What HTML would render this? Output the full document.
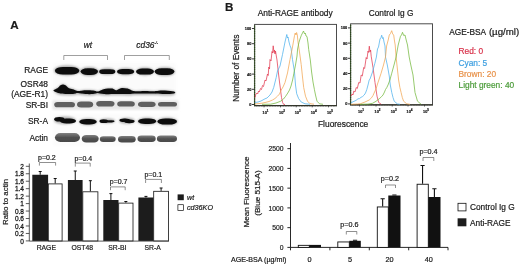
<!DOCTYPE html>
<html lang="en"><head><meta charset="utf-8"><title>Figure</title>
<style>html,body{margin:0;padding:0;background:#fff;}svg{display:block;filter:blur(0.3px);}text{font-family:"Liberation Sans", Arial, sans-serif;fill:#1a1a1a;stroke:#1a1a1a;stroke-width:0.2px;}</style></head><body>
<svg width="520" height="265" viewBox="0 0 520 265">
<defs>
<filter id="b1" x="-20%" y="-50%" width="140%" height="200%"><feGaussianBlur stdDeviation="0.55"/></filter>
<filter id="b2" x="-20%" y="-50%" width="140%" height="200%"><feGaussianBlur stdDeviation="0.8"/></filter>
<filter id="b3" x="-20%" y="-80%" width="140%" height="260%"><feGaussianBlur stdDeviation="1.6"/></filter>
<filter id="b2h" x="-20%" y="-60%" width="140%" height="220%"><feGaussianBlur stdDeviation="1.1"/></filter>
<filter id="t1"><feGaussianBlur stdDeviation="0.3"/></filter>
<linearGradient id="ga" x1="0" y1="0" x2="0" y2="1"><stop offset="0" stop-color="#808080"/><stop offset="0.5" stop-color="#505050"/><stop offset="1" stop-color="#4a4a4a"/></linearGradient>
</defs>
<rect width="520" height="265" fill="#fff"/>
<text x="10.3" y="29" font-size="11.6" font-weight="bold" fill="#000">A</text>
<text x="225" y="11.2" font-size="11.6" font-weight="bold" fill="#000">B</text>
<text x="87.9" y="47.6" font-size="8.4" font-style="italic" text-anchor="middle">wt</text>
<text x="136.3" y="47.6" font-size="8.4" font-style="italic">cd36<tspan font-size="3.8" dy="-3.4">-/-</tspan></text>
<path d="M63.8 60V55.5H107.5V60M124.5 60V55.5H169.3V60" fill="none" stroke="#777" stroke-width="0.7"/>
<text x="48" y="72.8" font-size="8.4" text-anchor="end">RAGE</text>
<text x="48" y="86.9" font-size="8.4" text-anchor="end">OSR48</text>
<text x="48" y="96.9" font-size="8.4" text-anchor="end">(AGE-R1)</text>
<text x="48" y="107.5" font-size="8.4" text-anchor="end">SR-BI</text>
<text x="48" y="123.8" font-size="8.4" text-anchor="end">SR-A</text>
<text x="48" y="140.6" font-size="8.4" text-anchor="end">Actin</text>
<g filter="url(#b3)">
<rect x="53" y="63" width="123" height="36" fill="#fbfbfb"/>
<rect x="53" y="114" width="125" height="32" fill="#fcfcfc"/>
</g>
<rect x="52.5" y="100.3" width="126" height="9.4" fill="#e6e6e6" filter="url(#b2)"/>
<g filter="url(#b2h)" opacity="0.5">
<rect x="54.00" y="65.50" width="26.00" height="10.00" rx="13.00" ry="5.00" fill="#555"/>
<rect x="80.00" y="67.00" width="18.50" height="9.00" rx="9.25" ry="4.50" fill="#555"/>
<rect x="99.00" y="68.00" width="16.50" height="7.00" rx="8.25" ry="3.50" fill="#555"/>
<rect x="117.00" y="68.00" width="17.50" height="7.30" rx="8.75" ry="3.65" fill="#555"/>
<rect x="136.00" y="67.60" width="18.00" height="7.90" rx="9.00" ry="3.95" fill="#555"/>
<rect x="155.00" y="67.30" width="20.00" height="8.70" rx="10.00" ry="4.35" fill="#555"/>
</g>
<g filter="url(#b1)">
<rect x="54.90" y="66.90" width="24.40" height="7.60" rx="7.98" ry="3.80" fill="#0c0c0c"/>
<rect x="80.60" y="68.20" width="17.40" height="6.70" rx="7.04" ry="3.35" fill="#0c0c0c"/>
<rect x="99.20" y="69.30" width="16.10" height="4.70" rx="4.94" ry="2.35" fill="#0c0c0c"/>
<rect x="117.00" y="69.00" width="17.20" height="5.30" rx="5.56" ry="2.65" fill="#0c0c0c"/>
<rect x="136.00" y="68.60" width="18.00" height="5.90" rx="6.20" ry="2.95" fill="#0c0c0c"/>
<rect x="154.60" y="68.30" width="19.80" height="6.60" rx="6.93" ry="3.30" fill="#0c0c0c"/>
</g>
<g filter="url(#b2h)" opacity="0.45">
<path d="M53.40 89.80C53.30 88.75 56.22 88.38 57.40 87.50C58.58 86.62 59.57 85.15 60.50 84.50C61.43 83.85 62.17 83.60 63.00 83.60C63.83 83.60 64.57 83.92 65.50 84.50C66.43 85.08 67.35 86.45 68.60 87.10C69.85 87.75 71.50 87.90 73.00 88.40C74.50 88.90 76.27 89.83 77.60 90.10C78.93 90.37 79.68 90.12 81.00 90.00C82.32 89.88 83.50 89.47 85.50 89.40C87.50 89.33 90.98 89.38 93.00 89.60C95.02 89.82 96.43 90.63 97.60 90.70C98.77 90.77 99.02 90.37 100.00 90.00C100.98 89.63 102.17 88.88 103.50 88.50C104.83 88.12 106.50 87.82 108.00 87.70C109.50 87.58 111.17 87.50 112.50 87.80C113.83 88.10 115.00 89.38 116.00 89.50C117.00 89.62 117.52 88.88 118.50 88.50C119.48 88.12 120.40 87.32 121.90 87.20C123.40 87.08 125.73 87.33 127.50 87.80C129.27 88.27 131.05 89.57 132.50 90.00C133.95 90.43 134.12 90.38 136.20 90.40C138.28 90.42 142.08 90.08 145.00 90.10C147.92 90.12 151.87 90.47 153.70 90.50C155.53 90.53 154.53 90.43 156.00 90.30C157.47 90.17 159.75 89.68 162.50 89.70C165.25 89.72 170.38 90.08 172.50 90.40C174.62 90.72 175.00 90.93 175.20 91.60C175.40 92.27 175.40 93.83 173.70 94.40C172.00 94.97 168.12 95.00 165.00 95.00C161.88 95.00 158.33 94.48 155.00 94.40C151.67 94.32 148.17 94.50 145.00 94.50C141.83 94.50 138.83 94.32 136.00 94.40C133.17 94.48 131.17 94.93 128.00 95.00C124.83 95.07 121.00 94.80 117.00 94.80C113.00 94.80 107.23 95.13 104.00 95.00C100.77 94.87 99.43 94.00 97.60 94.00C95.77 94.00 95.02 94.83 93.00 95.00C90.98 95.17 88.00 95.18 85.50 95.00C83.00 94.82 80.08 93.93 78.00 93.90C75.92 93.87 75.08 94.65 73.00 94.80C70.92 94.95 68.00 94.97 65.50 94.80C63.00 94.63 60.02 94.63 58.00 93.80C55.98 92.97 53.50 90.85 53.40 89.80Z" fill="#555" transform="translate(0 -0.6) scale(1 1.012)"/>
</g>
<g filter="url(#b1)">
<path d="M53.40 90.60C53.30 89.83 56.22 89.18 57.40 88.30C58.58 87.42 59.57 85.95 60.50 85.30C61.43 84.65 62.17 84.40 63.00 84.40C63.83 84.40 64.57 84.72 65.50 85.30C66.43 85.88 67.35 87.25 68.60 87.90C69.85 88.55 71.50 88.70 73.00 89.20C74.50 89.70 76.27 90.63 77.60 90.90C78.93 91.17 79.68 90.92 81.00 90.80C82.32 90.68 83.50 90.27 85.50 90.20C87.50 90.13 90.98 90.18 93.00 90.40C95.02 90.62 96.43 91.43 97.60 91.50C98.77 91.57 99.02 91.17 100.00 90.80C100.98 90.43 102.17 89.68 103.50 89.30C104.83 88.92 106.50 88.62 108.00 88.50C109.50 88.38 111.17 88.30 112.50 88.60C113.83 88.90 115.00 90.18 116.00 90.30C117.00 90.42 117.52 89.68 118.50 89.30C119.48 88.92 120.40 88.12 121.90 88.00C123.40 87.88 125.73 88.13 127.50 88.60C129.27 89.07 131.05 90.37 132.50 90.80C133.95 91.23 134.12 91.18 136.20 91.20C138.28 91.22 142.08 90.88 145.00 90.90C147.92 90.92 151.87 91.27 153.70 91.30C155.53 91.33 154.53 91.23 156.00 91.10C157.47 90.97 159.75 90.48 162.50 90.50C165.25 90.52 170.38 90.88 172.50 91.20C174.62 91.52 175.00 92.02 175.20 92.40C175.40 92.78 175.40 93.22 173.70 93.50C172.00 93.78 168.12 94.10 165.00 94.10C161.88 94.10 158.33 93.58 155.00 93.50C151.67 93.42 148.17 93.60 145.00 93.60C141.83 93.60 138.83 93.42 136.00 93.50C133.17 93.58 131.17 94.03 128.00 94.10C124.83 94.17 121.00 93.90 117.00 93.90C113.00 93.90 107.23 94.23 104.00 94.10C100.77 93.97 99.43 93.10 97.60 93.10C95.77 93.10 95.02 93.93 93.00 94.10C90.98 94.27 88.00 94.28 85.50 94.10C83.00 93.92 80.08 93.03 78.00 93.00C75.92 92.97 75.08 93.75 73.00 93.90C70.92 94.05 68.00 94.07 65.50 93.90C63.00 93.73 60.02 93.45 58.00 92.90C55.98 92.35 53.50 91.37 53.40 90.60Z" fill="#0c0c0c"/>
</g>
<g filter="url(#b1)">
<rect x="54.20" y="102.10" width="20.80" height="5.10" rx="3.57" ry="2.55" fill="#5e5e5e"/>
<rect x="77.00" y="101.50" width="16.20" height="6.00" rx="4.20" ry="3.00" fill="#5e5e5e"/>
<rect x="96.20" y="100.90" width="18.30" height="5.60" rx="3.92" ry="2.80" fill="#5e5e5e"/>
<rect x="117.20" y="101.20" width="17.60" height="5.40" rx="3.78" ry="2.70" fill="#5e5e5e"/>
<rect x="138.00" y="101.70" width="17.60" height="5.30" rx="3.71" ry="2.65" fill="#5e5e5e"/>
<rect x="158.00" y="102.00" width="19.00" height="4.60" rx="3.22" ry="2.30" fill="#5e5e5e"/>
</g>
<g filter="url(#b2h)" opacity="0.45">
<rect x="54.00" y="116.50" width="22.00" height="7.70" rx="10.01" ry="3.85" fill="#555"/>
<rect x="79.00" y="118.30" width="18.00" height="7.00" rx="9.00" ry="3.50" fill="#555"/>
<rect x="99.50" y="118.50" width="15.50" height="4.80" rx="6.24" ry="2.40" fill="#555"/>
<rect x="119.00" y="117.80" width="16.00" height="6.00" rx="7.80" ry="3.00" fill="#555"/>
<rect x="137.50" y="117.60" width="19.00" height="7.20" rx="9.36" ry="3.60" fill="#555"/>
<rect x="157.00" y="117.60" width="20.50" height="7.80" rx="10.14" ry="3.90" fill="#555"/>
</g>
<g filter="url(#b1)">
<ellipse cx="59.35" cy="119.30" rx="5.15" ry="2.30" fill="#0c0c0c"/>
<rect x="60.00" y="118.60" width="16.00" height="4.90" rx="6.37" ry="2.45" fill="#0c0c0c"/>
<rect x="79.20" y="119.00" width="17.60" height="5.60" rx="7.28" ry="2.80" fill="#0c0c0c"/>
<ellipse cx="103.75" cy="121.15" rx="4.25" ry="1.85" fill="#0c0c0c"/>
<rect x="103.00" y="120.20" width="11.60" height="2.20" rx="2.86" ry="1.10" fill="#0c0c0c"/>
<rect x="119.40" y="118.40" width="10.60" height="3.60" rx="4.68" ry="1.80" fill="#0c0c0c"/>
<rect x="124.00" y="119.40" width="10.60" height="3.80" rx="4.94" ry="1.90" fill="#0c0c0c"/>
<rect x="138.00" y="118.40" width="18.30" height="5.60" rx="7.28" ry="2.80" fill="#0c0c0c"/>
<rect x="157.40" y="118.40" width="19.60" height="6.20" rx="8.06" ry="3.10" fill="#0c0c0c"/>
</g>
<g filter="url(#b1)">
<rect x="54.90" y="133.10" width="25.10" height="8.80" rx="5.28" ry="4.40" fill="url(#ga)"/>
<rect x="81.70" y="135.00" width="17.00" height="7.50" rx="4.50" ry="3.75" fill="url(#ga)"/>
<rect x="99.80" y="136.20" width="15.90" height="5.70" rx="3.42" ry="2.85" fill="url(#ga)"/>
<rect x="118.00" y="136.00" width="17.70" height="6.50" rx="3.90" ry="3.25" fill="url(#ga)"/>
<rect x="137.50" y="135.60" width="18.20" height="6.30" rx="3.78" ry="3.15" fill="url(#ga)"/>
<rect x="156.90" y="135.60" width="20.10" height="6.30" rx="3.78" ry="3.15" fill="url(#ga)"/>
</g>
<g stroke="#222" stroke-width="0.75" fill="none">
<path d="M29.3 163.5V241.1 H169"/>
<path d="M25.8 240.90H29.3M25.8 233.44H29.3M25.8 225.98H29.3M25.8 218.52H29.3M25.8 211.06H29.3M25.8 203.60H29.3M25.8 196.14H29.3M25.8 188.68H29.3M25.8 181.22H29.3M25.8 173.76H29.3M25.8 166.30H29.3"/>
</g>
<text transform="translate(24 243.60) scale(0.86 1)" font-size="7.6" text-anchor="end" fill="#111" style="stroke-width:0.3px">0</text>
<text transform="translate(24 236.14) scale(0.86 1)" font-size="7.6" text-anchor="end" fill="#111" style="stroke-width:0.3px">0.2</text>
<text transform="translate(24 228.68) scale(0.86 1)" font-size="7.6" text-anchor="end" fill="#111" style="stroke-width:0.3px">0.4</text>
<text transform="translate(24 221.22) scale(0.86 1)" font-size="7.6" text-anchor="end" fill="#111" style="stroke-width:0.3px">0.6</text>
<text transform="translate(24 213.76) scale(0.86 1)" font-size="7.6" text-anchor="end" fill="#111" style="stroke-width:0.3px">0.8</text>
<text transform="translate(24 206.30) scale(0.86 1)" font-size="7.6" text-anchor="end" fill="#111" style="stroke-width:0.3px">1</text>
<text transform="translate(24 198.84) scale(0.86 1)" font-size="7.6" text-anchor="end" fill="#111" style="stroke-width:0.3px">1.2</text>
<text transform="translate(24 191.38) scale(0.86 1)" font-size="7.6" text-anchor="end" fill="#111" style="stroke-width:0.3px">1.4</text>
<text transform="translate(24 183.92) scale(0.86 1)" font-size="7.6" text-anchor="end" fill="#111" style="stroke-width:0.3px">1.6</text>
<text transform="translate(24 176.46) scale(0.86 1)" font-size="7.6" text-anchor="end" fill="#111" style="stroke-width:0.3px">1.8</text>
<text transform="translate(24 169.00) scale(0.86 1)" font-size="7.6" text-anchor="end" fill="#111" style="stroke-width:0.3px">2</text>
<path d="M40.20 174.75V171.50M38.70 171.50H41.70" stroke="#111" stroke-width="1" fill="none"/>
<rect x="32.30" y="174.75" width="15.80" height="66.15" fill="#1c1c1c"/>
<path d="M55.20 183.50V178.50M53.70 178.50H56.70" stroke="#111" stroke-width="1" fill="none"/>
<rect x="48.30" y="183.90" width="13.80" height="57.00" fill="#fff" stroke="#111" stroke-width="0.8"/>
<path d="M75.25 180.00V171.00M73.75 171.00H76.75" stroke="#111" stroke-width="1" fill="none"/>
<rect x="67.90" y="180.00" width="14.70" height="60.90" fill="#1c1c1c"/>
<path d="M90.35 191.40V180.70M88.85 180.70H91.85" stroke="#111" stroke-width="1" fill="none"/>
<rect x="82.80" y="191.80" width="15.10" height="49.10" fill="#fff" stroke="#111" stroke-width="0.8"/>
<path d="M110.90 200.00V193.60M109.40 193.60H112.40" stroke="#111" stroke-width="1" fill="none"/>
<rect x="103.30" y="200.00" width="15.20" height="40.90" fill="#1c1c1c"/>
<path d="M125.85 202.70V201.50M124.35 201.50H127.35" stroke="#111" stroke-width="1" fill="none"/>
<rect x="118.70" y="203.10" width="14.30" height="37.80" fill="#fff" stroke="#111" stroke-width="0.8"/>
<path d="M145.95 197.50V196.40M144.45 196.40H147.45" stroke="#111" stroke-width="1" fill="none"/>
<rect x="138.40" y="197.50" width="15.10" height="43.40" fill="#1c1c1c"/>
<path d="M161.10 190.90V188.00M159.60 188.00H162.60" stroke="#111" stroke-width="1" fill="none"/>
<rect x="153.70" y="191.30" width="14.80" height="49.60" fill="#fff" stroke="#111" stroke-width="0.8"/>
<text x="46.9" y="159.8" font-size="7" text-anchor="middle" fill="#222">p=0.2</text>
<path d="M39.4 165.6V162.5H55.6V165.6" stroke="#444" stroke-width="0.6" fill="none"/>
<text x="83.3" y="161.3" font-size="7" text-anchor="middle" fill="#222">p=0.4</text>
<path d="M75.3 166.6V163.1H90.2V166.6" stroke="#444" stroke-width="0.6" fill="none"/>
<text x="118.6" y="183.8" font-size="7" text-anchor="middle" fill="#222">p=0.7</text>
<path d="M110.5 190.2V186.9H125.2V190.2" stroke="#444" stroke-width="0.6" fill="none"/>
<text x="153.3" y="176.6" font-size="7" text-anchor="middle" fill="#222">p=0.1</text>
<path d="M145.6 183.0V179.4H161.4V183.0" stroke="#444" stroke-width="0.6" fill="none"/>
<text x="46.3" y="250" font-size="6.8" text-anchor="middle" fill="#111">RAGE</text>
<text x="82.2" y="250" font-size="6.8" text-anchor="middle" fill="#111">OST48</text>
<text x="117.3" y="250" font-size="6.8" text-anchor="middle" fill="#111">SR-BI</text>
<text x="152.6" y="250" font-size="6.8" text-anchor="middle" fill="#111">SR-A</text>
<text transform="translate(8.3 202) rotate(-90)" font-size="7.9" text-anchor="middle" fill="#111">Ratio to actin</text>
<rect x="177.6" y="194.4" width="6.2" height="5.8" fill="#1c1c1c"/>
<rect x="177.9" y="204.7" width="5.6" height="5.8" fill="#fff" stroke="#111" stroke-width="0.7"/>
<text x="187" y="199.7" font-size="7.2" font-style="italic" fill="#111">wt</text>
<text x="187" y="209.9" font-size="7.2" font-style="italic" fill="#111">cd36KO</text>
<text x="257.7" y="16" font-size="8.4" fill="#111">Anti-RAGE antibody</text>
<text x="368.7" y="16" font-size="8.3" fill="#111">Control Ig G</text>
<text transform="translate(239.4 68.2) rotate(-90)" font-size="8.4" text-anchor="middle" fill="#111">Number of Events</text>
<text x="318" y="126.6" font-size="8.4" fill="#111">Fluorescence</text>
<rect x="254.6" y="24.4" width="81.9" height="81.2" fill="#fff" stroke="#444" stroke-width="0.95"/>
<path d="M254.1 105.6H336.9" stroke="#33352a" stroke-width="1.25"/>
<path d="M254.6 25.4V105.6" stroke="#2c4a1c" stroke-width="1.3" stroke-dasharray="1.3 0.5" fill="none"/>
<path d="M254.6 106.3H336.5" stroke="#555" stroke-width="0.7" stroke-dasharray="0.5 1.1" fill="none"/>
<path d="M252.0 104.50H254.6" stroke="#222" stroke-width="0.9"/>
<text x="251.3" y="105.90" font-size="3.9" font-weight="bold" text-anchor="end" fill="#222">0</text>
<path d="M252.0 89.30H254.6" stroke="#222" stroke-width="0.9"/>
<text x="251.3" y="90.70" font-size="3.9" font-weight="bold" text-anchor="end" fill="#222">20</text>
<path d="M252.0 74.10H254.6" stroke="#222" stroke-width="0.9"/>
<text x="251.3" y="75.50" font-size="3.9" font-weight="bold" text-anchor="end" fill="#222">40</text>
<path d="M252.0 58.90H254.6" stroke="#222" stroke-width="0.9"/>
<text x="251.3" y="60.30" font-size="3.9" font-weight="bold" text-anchor="end" fill="#222">60</text>
<path d="M252.0 43.70H254.6" stroke="#222" stroke-width="0.9"/>
<text x="251.3" y="45.10" font-size="3.9" font-weight="bold" text-anchor="end" fill="#222">80</text>
<path d="M252.0 28.50H254.6" stroke="#222" stroke-width="0.9"/>
<text x="251.3" y="29.90" font-size="3.9" font-weight="bold" text-anchor="end" fill="#222">100</text>
<text x="265.5" y="113.6" font-size="3.8" font-weight="bold" text-anchor="middle" fill="#222">10<tspan font-size="3.1" dy="-2.1">1</tspan></text>
<path d="M264.0 105.6V107.4" stroke="#222" stroke-width="0.6"/>
<text x="282.0" y="113.6" font-size="3.8" font-weight="bold" text-anchor="middle" fill="#222">10<tspan font-size="3.1" dy="-2.1">2</tspan></text>
<path d="M280.5 105.6V107.4" stroke="#222" stroke-width="0.6"/>
<text x="297.7" y="113.6" font-size="3.8" font-weight="bold" text-anchor="middle" fill="#222">10<tspan font-size="3.1" dy="-2.1">3</tspan></text>
<path d="M296.2 105.6V107.4" stroke="#222" stroke-width="0.6"/>
<text x="313.7" y="113.6" font-size="3.8" font-weight="bold" text-anchor="middle" fill="#222">10<tspan font-size="3.1" dy="-2.1">4</tspan></text>
<path d="M312.2 105.6V107.4" stroke="#222" stroke-width="0.6"/>
<text x="330.0" y="113.6" font-size="3.8" font-weight="bold" text-anchor="middle" fill="#222">10<tspan font-size="3.1" dy="-2.1">5</tspan></text>
<path d="M328.5 105.6V107.4" stroke="#222" stroke-width="0.6"/>
<polyline fill="none" stroke="#e23a50" stroke-width="0.75" stroke-linejoin="round" points="255.00,97.50 255.80,94.50 256.60,93.00 257.60,94.00 258.60,91.00 259.40,91.80 260.50,88.50 261.50,89.50 262.50,85.50 263.50,86.50 265.00,80.00 266.00,81.00 267.50,74.00 268.20,75.50 268.80,67.00 269.50,69.00 270.00,59.50 271.00,61.00 272.00,51.50 272.60,53.00 273.20,45.80 274.00,52.50 274.50,50.00 275.00,54.00 275.50,51.00 276.30,56.00 277.00,60.00 278.30,72.00 279.50,82.00 280.30,88.00 281.50,97.50 282.60,102.50 283.60,104.30 285.00,104.50"/>
<polyline fill="none" stroke="#4cb0ec" stroke-width="0.75" stroke-linejoin="round" points="255.00,102.50 258.00,102.00 261.00,101.00 265.00,98.80 267.00,98.00 270.00,95.00 272.00,92.00 273.70,87.50 276.20,77.50 277.50,71.00 280.00,66.00 282.50,54.50 285.00,42.00 286.20,37.00 286.80,34.50 287.50,38.00 288.00,37.00 289.00,42.00 290.00,45.70 291.00,48.00 292.50,59.50 294.50,72.00 295.50,85.00 296.70,93.70 298.70,98.70 301.20,102.00 305.00,103.80 310.00,104.20"/>
<polyline fill="none" stroke="#f2a652" stroke-width="0.75" stroke-linejoin="round" points="255.00,104.00 262.00,103.20 265.00,102.50 269.00,101.50 272.50,100.00 275.00,98.50 277.50,96.20 279.50,94.00 281.20,90.00 283.00,87.00 285.00,82.50 287.50,73.00 290.00,59.50 292.50,47.00 294.50,35.70 295.20,33.00 296.00,35.00 296.60,32.50 297.30,35.00 298.00,42.00 299.50,52.00 301.20,64.50 302.50,77.00 303.70,87.50 305.50,96.20 307.50,101.20 310.00,103.70 314.00,104.20"/>
<polyline fill="none" stroke="#74b83e" stroke-width="0.75" stroke-linejoin="round" points="262.00,104.30 270.70,104.20 276.00,103.00 280.70,101.20 283.50,99.00 285.70,96.20 287.80,93.00 289.50,90.00 291.00,86.00 292.60,80.00 293.90,73.20 295.50,65.00 297.00,56.00 297.60,49.00 298.90,42.70 300.00,39.00 301.40,35.20 302.50,33.00 303.50,31.00 304.50,33.80 305.30,33.00 306.00,36.00 307.00,36.50 308.00,43.00 308.70,49.50 310.30,60.00 311.60,72.00 313.00,82.00 314.40,89.50 315.50,95.00 317.00,101.20 319.50,103.80 323.00,104.30"/>
<rect x="350.6" y="23.8" width="81.9" height="81.0" fill="#fff" stroke="#444" stroke-width="0.95"/>
<path d="M350.1 104.8H432.9" stroke="#33352a" stroke-width="1.25"/>
<path d="M350.6 24.8V104.8" stroke="#2c4a1c" stroke-width="1.3" stroke-dasharray="1.3 0.5" fill="none"/>
<path d="M350.6 105.5H432.5" stroke="#555" stroke-width="0.7" stroke-dasharray="0.5 1.1" fill="none"/>
<path d="M348.0 103.90H350.6" stroke="#222" stroke-width="0.9"/>
<text x="347.3" y="105.30" font-size="3.9" font-weight="bold" text-anchor="end" fill="#222">0</text>
<path d="M348.0 88.70H350.6" stroke="#222" stroke-width="0.9"/>
<text x="347.3" y="90.10" font-size="3.9" font-weight="bold" text-anchor="end" fill="#222">20</text>
<path d="M348.0 73.50H350.6" stroke="#222" stroke-width="0.9"/>
<text x="347.3" y="74.90" font-size="3.9" font-weight="bold" text-anchor="end" fill="#222">40</text>
<path d="M348.0 58.30H350.6" stroke="#222" stroke-width="0.9"/>
<text x="347.3" y="59.70" font-size="3.9" font-weight="bold" text-anchor="end" fill="#222">60</text>
<path d="M348.0 43.10H350.6" stroke="#222" stroke-width="0.9"/>
<text x="347.3" y="44.50" font-size="3.9" font-weight="bold" text-anchor="end" fill="#222">80</text>
<path d="M348.0 27.90H350.6" stroke="#222" stroke-width="0.9"/>
<text x="347.3" y="29.30" font-size="3.9" font-weight="bold" text-anchor="end" fill="#222">100</text>
<text x="361.0" y="112.8" font-size="3.8" font-weight="bold" text-anchor="middle" fill="#222">10<tspan font-size="3.1" dy="-2.1">1</tspan></text>
<path d="M359.5 104.8V106.6" stroke="#222" stroke-width="0.6"/>
<text x="377.5" y="112.8" font-size="3.8" font-weight="bold" text-anchor="middle" fill="#222">10<tspan font-size="3.1" dy="-2.1">2</tspan></text>
<path d="M376.0 104.8V106.6" stroke="#222" stroke-width="0.6"/>
<text x="393.7" y="112.8" font-size="3.8" font-weight="bold" text-anchor="middle" fill="#222">10<tspan font-size="3.1" dy="-2.1">3</tspan></text>
<path d="M392.2 104.8V106.6" stroke="#222" stroke-width="0.6"/>
<text x="409.5" y="112.8" font-size="3.8" font-weight="bold" text-anchor="middle" fill="#222">10<tspan font-size="3.1" dy="-2.1">4</tspan></text>
<path d="M408.0 104.8V106.6" stroke="#222" stroke-width="0.6"/>
<text x="426.0" y="112.8" font-size="3.8" font-weight="bold" text-anchor="middle" fill="#222">10<tspan font-size="3.1" dy="-2.1">5</tspan></text>
<path d="M424.5 104.8V106.6" stroke="#222" stroke-width="0.6"/>
<polyline fill="none" stroke="#e23a50" stroke-width="0.75" stroke-linejoin="round" points="351.00,96.20 352.00,94.00 353.00,95.00 353.70,91.20 355.00,92.00 356.20,87.50 357.30,88.50 358.70,82.50 360.00,83.00 361.20,75.00 362.30,76.00 363.70,67.50 364.60,68.50 366.20,57.50 367.00,59.00 368.00,51.00 368.70,52.50 369.30,46.20 370.00,52.00 370.60,50.00 371.20,56.20 373.00,67.50 375.00,82.50 377.00,96.20 378.70,102.50 381.20,104.20"/>
<polyline fill="none" stroke="#4cb0ec" stroke-width="0.75" stroke-linejoin="round" points="351.00,102.70 354.00,101.30 356.00,100.40 358.00,98.80 359.50,98.60 361.00,97.30 362.50,96.60 364.20,95.00 365.50,93.00 366.80,89.50 368.00,85.00 369.20,80.00 370.00,79.00 371.10,76.00 372.50,72.00 374.90,63.20 376.40,57.00 377.50,49.00 378.50,47.00 380.00,39.00 381.00,37.50 381.70,35.20 382.50,38.50 383.20,37.50 384.00,42.00 385.00,46.00 385.50,57.00 387.30,65.00 389.25,76.00 390.30,85.00 391.75,92.50 393.00,97.50 394.25,101.25 397.40,103.90 400.00,104.30"/>
<polyline fill="none" stroke="#f2a652" stroke-width="0.75" stroke-linejoin="round" points="351.00,104.30 357.50,104.00 360.50,103.70 365.00,102.00 369.20,100.00 371.50,97.80 373.00,95.50 375.00,91.00 376.20,88.50 377.50,84.00 379.50,78.00 381.10,73.20 383.50,65.00 385.50,57.00 386.60,46.00 388.20,40.00 389.30,35.00 390.50,33.50 391.70,30.70 392.70,34.00 393.70,35.00 394.50,41.00 395.20,45.00 396.10,57.00 397.50,70.00 398.60,80.00 399.90,87.50 401.10,92.50 402.30,97.50 403.60,101.20 406.70,103.80 410.00,104.30"/>
<polyline fill="none" stroke="#74b83e" stroke-width="0.75" stroke-linejoin="round" points="360.00,104.30 368.00,104.10 372.50,103.30 376.00,101.30 379.20,98.80 381.50,96.70 383.00,95.00 384.50,92.00 385.50,89.50 386.80,87.50 388.00,85.00 389.90,80.00 391.75,73.20 394.00,65.00 396.10,57.00 397.30,50.00 398.20,45.00 399.50,40.00 400.50,36.20 401.50,35.00 402.50,32.30 403.70,35.50 405.00,35.00 406.20,40.00 407.50,45.00 409.20,57.00 410.80,65.00 413.00,75.00 415.00,92.50 417.50,101.20 421.20,104.30"/>
<text x="449.2" y="35.2" font-size="8.3" fill="#111">AGE-BSA</text>
<text x="488.9" y="35.2" font-size="8.5" fill="#111" textLength="30.3" lengthAdjust="spacingAndGlyphs">(µg/ml)</text>
<text x="458.5" y="54.2" font-size="8.35" style="fill:#d8324a;stroke:#d8324a">Red: 0</text>
<text x="458.5" y="65.5" font-size="8.35" style="fill:#3e9fe0;stroke:#3e9fe0">Cyan: 5</text>
<text x="458.5" y="76.9" font-size="8.35" style="fill:#e8924a;stroke:#e8924a">Brown: 20</text>
<text x="458.5" y="88.2" font-size="8.35" style="fill:#4c9c3a;stroke:#4c9c3a">Light green: 40</text>
<g stroke="#111" stroke-width="0.9" fill="none">
<path d="M290.5 143V247.4H448V250.3"/>
<path d="M287.4 247.40H290.5M287.4 227.65H290.5M287.4 207.90H290.5M287.4 188.15H290.5M287.4 168.40H290.5M287.4 148.65H290.5M290.5 247.4V250.3M329.9 247.4V250.3M369.3 247.4V250.3M408.7 247.4V250.3"/>
</g>
<text transform="translate(283.6 250.20) scale(0.86 1)" font-size="7.9" text-anchor="end" fill="#111">0</text>
<text transform="translate(283.6 230.45) scale(0.86 1)" font-size="7.9" text-anchor="end" fill="#111">500</text>
<text transform="translate(283.6 210.70) scale(0.86 1)" font-size="7.9" text-anchor="end" fill="#111">1000</text>
<text transform="translate(283.6 190.95) scale(0.86 1)" font-size="7.9" text-anchor="end" fill="#111">1500</text>
<text transform="translate(283.6 171.20) scale(0.86 1)" font-size="7.9" text-anchor="end" fill="#111">2000</text>
<text transform="translate(283.6 151.45) scale(0.86 1)" font-size="7.9" text-anchor="end" fill="#111">2500</text>
<rect x="298.30" y="245.35" width="11.00" height="2.05" fill="#fff" stroke="#111" stroke-width="0.9"/>
<rect x="309.30" y="244.90" width="11.70" height="2.50" fill="#111"/>
<rect x="337.80" y="241.95" width="11.50" height="5.45" fill="#fff" stroke="#111" stroke-width="0.9"/>
<path d="M355.05 240.80V240.30M352.95 240.30H357.15" stroke="#111" stroke-width="1.1" fill="none"/>
<rect x="349.30" y="240.80" width="11.50" height="6.60" fill="#111"/>
<path d="M382.65 206.50V198.80M380.55 198.80H384.75" stroke="#111" stroke-width="1.1" fill="none"/>
<rect x="377.30" y="206.95" width="11.00" height="40.45" fill="#fff" stroke="#111" stroke-width="0.9"/>
<path d="M394.40 195.50V195.00M392.30 195.00H396.50" stroke="#111" stroke-width="1.1" fill="none"/>
<rect x="388.30" y="195.50" width="12.20" height="51.90" fill="#111"/>
<path d="M422.55 183.80V165.50M420.45 165.50H424.65" stroke="#111" stroke-width="1.1" fill="none"/>
<rect x="417.10" y="184.25" width="11.20" height="63.15" fill="#fff" stroke="#111" stroke-width="0.9"/>
<path d="M434.40 197.00V188.80M432.30 188.80H436.50" stroke="#111" stroke-width="1.1" fill="none"/>
<rect x="428.30" y="197.00" width="12.20" height="50.40" fill="#111"/>
<text x="349.3" y="227.3" font-size="7.2" text-anchor="middle" fill="#222">p=0.6</text>
<path d="M346.3 234.5V231.5H356.8V234.5" stroke="#444" stroke-width="0.6" fill="none"/>
<text x="389.8" y="181.4" font-size="7.2" text-anchor="middle" fill="#222">p=0.2</text>
<path d="M385.5 188.0V185.0H395.5V188.0" stroke="#444" stroke-width="0.6" fill="none"/>
<text x="428.5" y="153.8" font-size="7.2" text-anchor="middle" fill="#222">p=0.4</text>
<path d="M423.0 161.0V157.5H433.8V161.0" stroke="#444" stroke-width="0.6" fill="none"/>
<text x="231" y="261.5" font-size="7.1" fill="#111">AGE-BSA (µg/ml)</text>
<text x="309.5" y="261.7" font-size="7.3" text-anchor="middle" fill="#111">0</text>
<text x="350.0" y="261.7" font-size="7.3" text-anchor="middle" fill="#111">5</text>
<text x="389.5" y="261.7" font-size="7.3" text-anchor="middle" fill="#111">20</text>
<text x="428.8" y="261.7" font-size="7.3" text-anchor="middle" fill="#111">40</text>
<text transform="translate(249.3 192) rotate(-90)" font-size="8.1" text-anchor="middle" fill="#111">Mean Fluorescence</text>
<text transform="translate(259.6 193) rotate(-90)" font-size="8.1" text-anchor="middle" fill="#111">(Blue 515-A)</text>
<rect x="458" y="203.3" width="8" height="7.6" fill="#fff" stroke="#111" stroke-width="0.8"/>
<rect x="457.6" y="218.3" width="8.8" height="8" fill="#1c1c1c"/>
<text x="470" y="209.9" font-size="8.3" fill="#111">Control Ig G</text>
<text x="470" y="225.6" font-size="8.3" fill="#111">Anti-RAGE</text>
</svg></body></html>
